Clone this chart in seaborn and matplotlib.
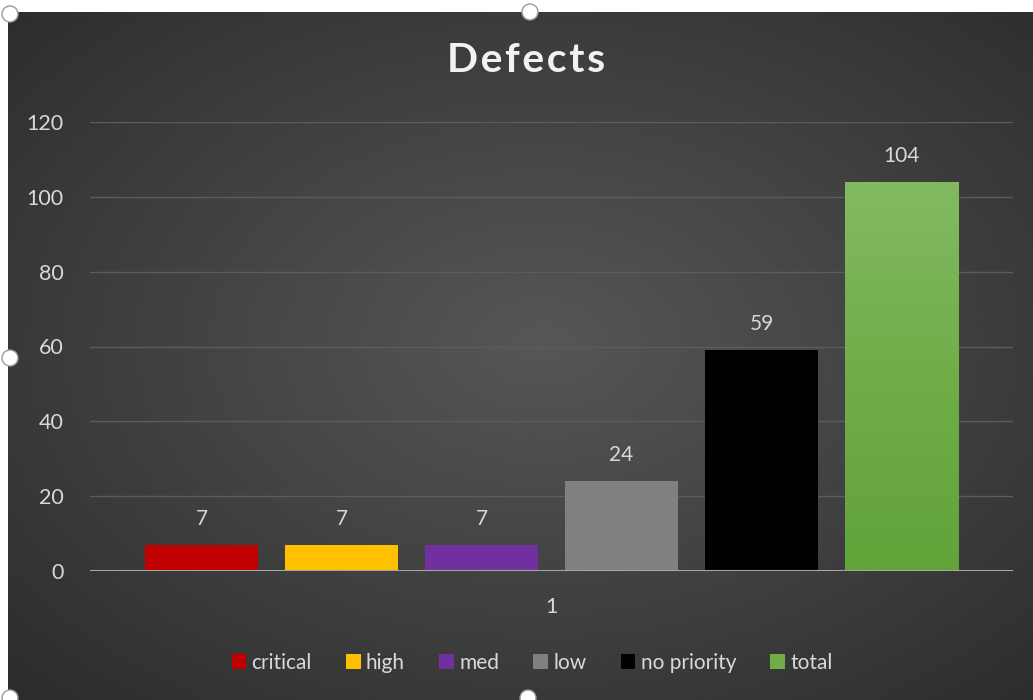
import numpy as np
import pandas as pd
import matplotlib
matplotlib.use("Agg")
import matplotlib.pyplot as plt
import seaborn as sns
from matplotlib.patches import Ellipse
from matplotlib.colors import LinearSegmentedColormap

# data
priorities = ["critical", "high", "med", "low", "no priority", "total"]
defects = [7, 7, 7, 24, 59, 104]
colours = ["#C00000", "#FFC000", "#7030A0", "#808080", "#000000", "#70AD47"]
group = ["1"] * len(priorities)

df = pd.DataFrame({"group": group, "priority": priorities, "defects": defects})

sns.set_style("dark")
plt.rcParams["font.family"] = ["Lato", "DejaVu Sans"]

W, H = 1033, 700
fig = plt.figure(figsize=(W / 100, H / 100), dpi=100)
fig.patch.set_facecolor("white")

# dark radial background of the chart area
bg = fig.add_axes([8 / W, 0, 1 - 8 / W, 1 - 12 / H], zorder=-5)
yy, xx = np.mgrid[0:1:300j, 0:1:450j]
r = np.sqrt(((xx - 0.52) / 0.75) ** 2 + ((yy - 0.48) / 0.75) ** 2)
bg.imshow(0.34 - 0.17 * np.clip(r, 0, 1), cmap="gray", vmin=0, vmax=1,
          aspect="auto", extent=[0, 1, 0, 1], interpolation="bicubic")
bg.set_axis_off()

ax = fig.add_axes([90 / W, 1 - 571 / H, 923 / W, 449 / H])
ax.set_facecolor("none")

sns.barplot(data=df, x="group", y="defects", hue="priority", palette=colours,
            hue_order=priorities, width=0.91, gap=0.19, saturation=1,
            linewidth=0, ax=ax, legend=True)

# soft vertical gradient on the green "total" bar
green = LinearSegmentedColormap.from_list("g", ["#62A33A", "#70AD47", "#82BA62"])
tb = ax.containers[-1].patches[0]
x0, w, h = tb.get_x(), tb.get_width(), tb.get_height()
im = ax.imshow(np.linspace(0, 1, 100).reshape(-1, 1), cmap=green, origin="lower",
               extent=[x0, x0 + w, 0, h], aspect="auto", zorder=tb.get_zorder() + 0.1)
im.set_clip_path(tb)

for c in ax.containers:
    ax.bar_label(c, padding=11.7, color="#d9d9d9", fontsize=15)

ax.set_xlim(-0.5, 0.5)
ax.set_ylim(0, 120)
ax.set_yticks(range(0, 121, 20))
ax.grid(axis="y", color="#5c5c5c", linewidth=1)
ax.grid(axis="x", visible=False)
ax.axhline(0, color="#a6a6a6", linewidth=2.2, zorder=5)
for s in ax.spines.values():
    s.set_visible(False)
ax.tick_params(axis="y", colors="#d9d9d9", labelsize=15.5, pad=19, length=0)
ax.tick_params(axis="x", colors="#d9d9d9", labelsize=15.5, pad=18.5, length=0)
ax.set_xlabel("")
ax.set_ylabel("")

fig.text(526 / W, 1 - 61 / H, "\u200a".join("Defects"),
         ha="center", va="center", fontsize=29.5, fontweight="bold",
         color="#f2f2f2")

leg = ax.legend(loc="center", bbox_to_anchor=(0.479, -0.205), ncol=6,
                frameon=False, fontsize=15, handlelength=0.7,
                handleheight=0.7, handletextpad=0.25, columnspacing=1.65)
for t in leg.get_texts():
    t.set_color("#d9d9d9")

# selection handles from the screenshot
rad = 8
for hx, hy in [(10, 14), (10, 358), (530, 12), (528, 698), (10, 698)]:
    fig.patches.append(Ellipse((hx / W, 1 - hy / H), 2 * rad / W, 2 * rad / H,
                               transform=fig.transFigure, facecolor="white",
                               edgecolor="#9a9a9a", linewidth=1, zorder=10))

fig.savefig("out.png", dpi=100)
